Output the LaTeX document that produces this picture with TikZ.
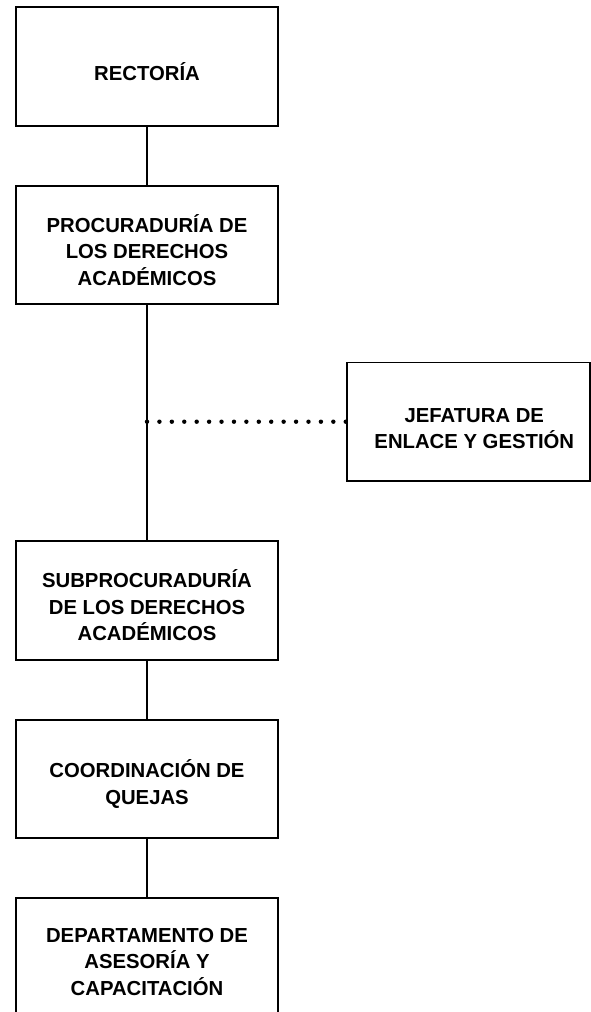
\documentclass[tikz,border=0pt]{standalone}
\usepackage{fontspec}
\usetikzlibrary{decorations.markings}
\setmainfont{Liberation Sans}
\begin{document}
\begin{tikzpicture}[x=1pt,y=-1pt,
  box/.style={draw=black,line width=1.8pt,fill=white,inner sep=0pt,minimum width=262.5pt,minimum height=119pt},
  lbl/.style={font=\fontsize{20.3}{26.5}\selectfont\bfseries,align=center,yshift=-5pt,inner sep=0pt},
  conn/.style={line width=1.8pt},
  dotline/.style={postaction={decorate},decoration={markings,mark=between positions 0 and 1 step 0.0625 with {\fill[black] (0,0) circle[radius=2.2pt];}}}]
\useasboundingbox[fill=white] (0,0) rectangle (591,1012);
\node[box,label={[lbl]center:RECTORÍA}] (r) at (147,66.5) {};
\node[box,minimum height=118pt,label={[lbl]center:PROCURADURÍA DE\\LOS DERECHOS\\ACADÉMICOS}] (p) at (147,245) {};
\node[box,minimum width=243.3pt,minimum height=118.5pt,label={[lbl,xshift=6pt,yshift=-2pt]center:JEFATURA DE\\ENLACE Y GESTIÓN}] (j) at (468.3,421.7) {};
\node[box,label={[lbl]center:SUBPROCURADURÍA\\DE LOS DERECHOS\\ACADÉMICOS}] (s) at (147,600.5) {};
\node[box,minimum height=118pt,label={[lbl]center:COORDINACIÓN DE\\QUEJAS}] (c) at (147,779) {};
\node[box,label={[lbl,yshift=1pt]center:DEPARTAMENTO DE\\ASESORÍA Y\\CAPACITACIÓN}] (d) at (147,957.5) {};
\draw[conn] (r.south) -- (p.north);
\draw[conn] (p.south) -- (s.north);
\draw[conn] (s.south) -- (c.north);
\draw[conn] (c.south) -- (d.north);
\coordinate (jt) at (j.west -| p.south);
\path[dotline] (jt) -- (j.west);
\end{tikzpicture}
\end{document}
